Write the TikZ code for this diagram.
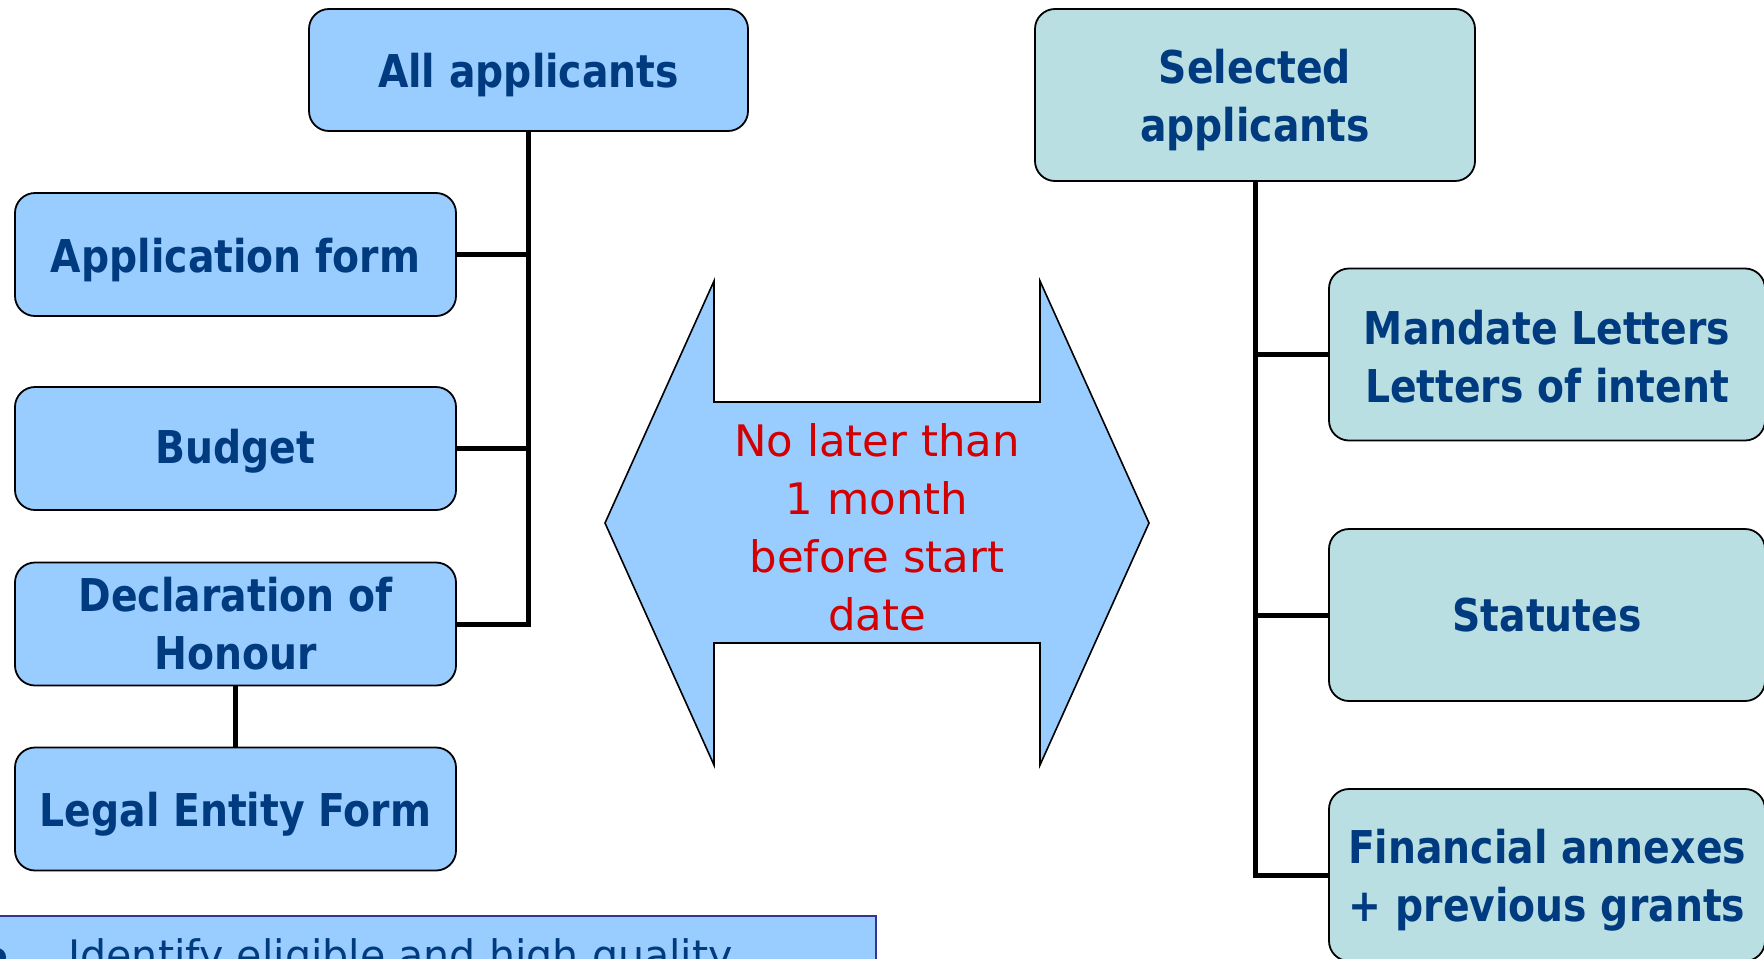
\documentclass[tikz,border=0pt]{standalone}
\usepackage{fontspec}
\newfontfamily\bfont[FakeStretch=0.87]{DejaVu Sans}
\newfontfamily\rfont{DejaVu Sans}
\newfontfamily\nfont[FakeStretch=0.98]{DejaVu Sans}
\definecolor{boxblue}{HTML}{99CCFF}
\definecolor{boxteal}{HTML}{B9DFE3}
\definecolor{navy}{HTML}{003A7F}
\definecolor{redtext}{HTML}{D20000}
\definecolor{framebl}{HTML}{333399}
\newcommand\tup{\rule{0pt}{22.2pt}}
\newcommand\hup{\rule{0pt}{19.7pt}}
\tikzset{
  docbox/.style={draw=black, line width=0.9pt, rounded corners=10pt, inner sep=0pt,
    align=center, text=navy, font=\bfont\bfseries\fontsize{22.6}{29}\selectfont},
  leftbox/.style={docbox, fill=boxblue, minimum width=220.5pt, minimum height=61.5pt},
  rightbox/.style={docbox, fill=boxteal, minimum width=218pt, minimum height=86pt},
  link/.style={draw=black, line width=2.5pt},
}
\begin{document}
\begin{tikzpicture}[x=0.5pt,y=-0.5pt]
\useasboundingbox (0,0) rectangle (1764,958);
\clip (0,0) rectangle (1764,958);
% left column
\node[docbox, fill=boxblue, minimum width=219.5pt, minimum height=61pt] (all) at (528.5,70) {\tup All applicants};
\node[leftbox] (appform) at (235.5,254.5) {\tup Application form};
\node[leftbox] (budget) at (235.5,448.5) {\hup Budget};
\node[leftbox] (decl) at (235.5,624) {Declaration of\\Honour};
\node[leftbox] (legal) at (235.5,809) {\tup Legal Entity Form};
\draw[link] (all.south) |- (decl.east);
\draw[link] (appform.east) -- (appform.east -| all.south);
\draw[link] (budget.east) -- (budget.east -| all.south);
\draw[link] (decl.south) -- (legal.north);
% right column
\node[docbox, fill=boxteal, minimum width=220pt, minimum height=86pt] (selected) at (1255,95) {\tup Selected\\applicants};
\node[rightbox] (mandate) at (1547,354.5) {\hup Mandate Letters\\Letters of intent};
\node[rightbox] (statutes) at (1547,615) {Statutes};
\node[rightbox] (fin) at (1547,875) {\tup Financial annexes\\+ previous grants};
\draw[link] (selected.south) |- (fin.west);
\draw[link] (mandate.west) -- (mandate.west -| selected.south);
\draw[link] (statutes.west) -- (statutes.west -| selected.south);
% double arrow
\draw[fill=boxblue, draw=black, line width=0.8pt, line join=miter]
  (605,523) -- (714,281) -- (714,402) -- (1040,402) -- (1040,281) -- (1149,523)
  -- (1040,765) -- (1040,643) -- (714,643) -- (714,765) -- cycle;
\node[text=redtext, align=center, font=\rfont\fontsize{21.7}{29}\selectfont] (deadline) at (877,527)
  {No later than\\1 month\\before start\\date};
% bottom text box
\node[draw=framebl, fill=boxblue, line width=0.9pt, minimum width=445pt, minimum height=60pt, inner sep=0pt, anchor=north west] (goal) at (-15,915) {};
\node[circle, fill=navy, inner sep=0pt, minimum size=9pt] (bullet) at (-3,957) {};
\node[anchor=base west, inner sep=0pt, text=navy, font=\nfont\fontsize{21}{26}\selectfont] (goaltext) at (68,970) {Identify eligible and high quality};
\end{tikzpicture}
\end{document}
